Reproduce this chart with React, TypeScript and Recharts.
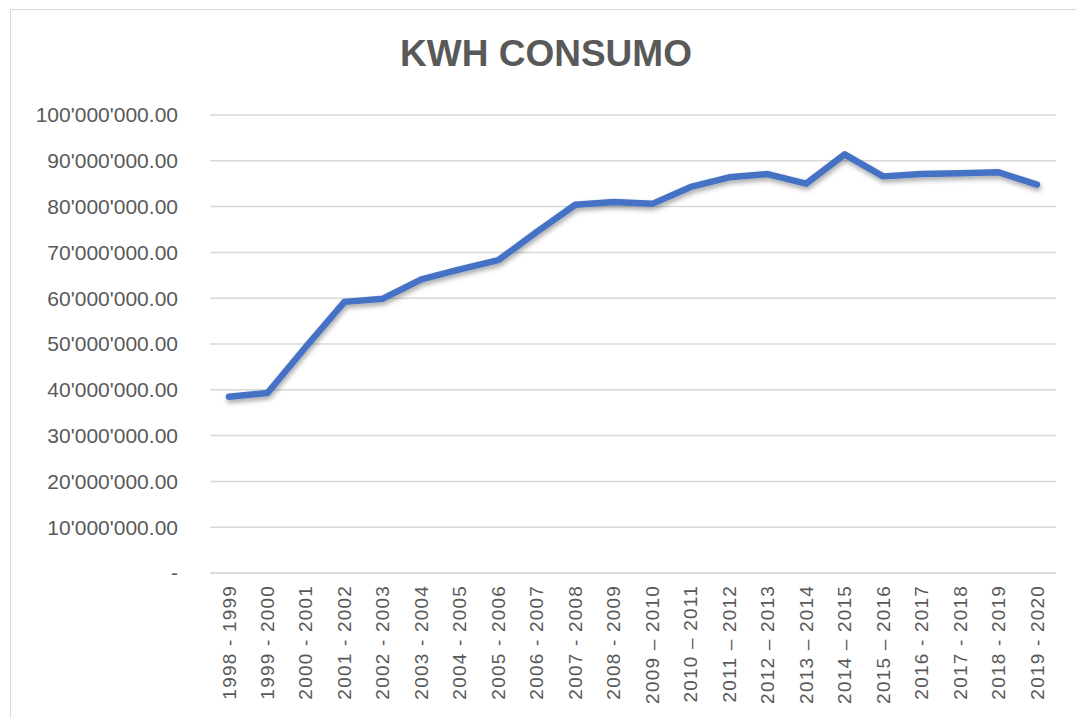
import { LineChart, Line, XAxis, YAxis, CartesianGrid } from 'recharts'

const periods = [
  '1998 - 1999', '1999 - 2000', '2000 - 2001', '2001 - 2002', '2002 - 2003',
  '2003 - 2004', '2004 - 2005', '2005 - 2006', '2006 - 2007', '2007 - 2008',
  '2008 - 2009', '2009 – 2010', '2010 – 2011', '2011 – 2012', '2012 – 2013',
  '2013 – 2014', '2014 – 2015', '2015 – 2016', '2016 - 2017', '2017 - 2018',
  '2018 - 2019', '2019 - 2020',
]

const kwh = [
  38500000, 39300000, 49400000, 59200000, 59900000, 64100000, 66300000,
  68300000, 74500000, 80400000, 81000000, 80600000, 84300000, 86400000,
  87100000, 85000000, 91400000, 86600000, 87100000, 87300000, 87500000,
  84800000,
]

const yTicks = [0, 10000000, 20000000, 30000000, 40000000, 50000000, 60000000, 70000000, 80000000, 90000000, 100000000]

const data = periods.map((p, i) => ({ period: p, kwh: kwh[i] }))

const grey = '#595959'

function formatKwh(v: number) {
  if (v === 0) return '-'
  const s = v.toFixed(2)
  const [int, dec] = s.split('.')
  return int.replace(/\B(?=(\d{3})+(?!\d))/g, "'") + '.' + dec
}

// rotated category label, reads bottom to top
function PeriodTick(props: any) {
  const { x, y, payload } = props
  return (
    <text
      x={x}
      y={y}
      transform={`rotate(-90, ${x}, ${y})`}
      textAnchor="end"
      dominantBaseline="central"
      fill={grey}
      fontSize={19}
      letterSpacing={1.2}
      fontFamily="'Liberation Sans', Arial, sans-serif"
    >
      {payload.value}
    </text>
  )
}

export default function App() {
  return (
    <div style={{ position: 'absolute', left: 0, top: 0, width: 1076, height: 718, overflow: 'hidden', background: '#fff' }}>
      <div
        style={{
          position: 'absolute',
          left: 10,
          top: 9,
          width: 1120,
          height: 800,
          border: '1px solid #d9d9d9',
        }}
      />
      <div
        style={{
          position: 'absolute',
          left: 0,
          top: 33,
          width: 1092,
          textAlign: 'center',
          fontFamily: "'Liberation Sans', Arial, sans-serif",
          fontWeight: 'bold',
          fontSize: 37,
          color: grey,
        }}
      >
        KWH CONSUMO
      </div>
      <div style={{ position: 'absolute', left: 0, top: 0 }}>
        <LineChart width={1076} height={718} data={data} margin={{ top: 115, right: 20, bottom: 0, left: 0 }}>
          <defs>
            <filter id="lineShadow" x="-5%" y="-20%" width="110%" height="140%">
              <feDropShadow dx="1" dy="3" stdDeviation="2.5" floodColor="#000" floodOpacity="0.35" />
            </filter>
          </defs>
          <CartesianGrid vertical={false} stroke="#d9d9d9" strokeWidth={1.5} />
          <XAxis
            dataKey="period"
            interval={0}
            height={145}
            padding={{ left: 19, right: 19 }}
            tickLine={false}
            axisLine={{ stroke: '#d9d9d9', strokeWidth: 1.5 }}
            tick={<PeriodTick />}
            tickSize={0}
            tickMargin={12}
          />
          <YAxis
            width={210}
            domain={[0, 100000000]}
            ticks={yTicks}
            interval={0}
            tickFormatter={formatKwh}
            axisLine={false}
            tickLine={false}
            tickSize={0}
            tickMargin={32}
            tick={{ fill: grey, fontSize: 21, fontFamily: "'Liberation Sans', Arial, sans-serif" }}
          />
          <Line
            type="linear"
            dataKey="kwh"
            stroke="#4472C4"
            strokeWidth={6.5}
            strokeLinecap="round"
            strokeLinejoin="round"
            dot={false}
            filter="url(#lineShadow)"
            isAnimationActive={false}
          />
        </LineChart>
      </div>
    </div>
  )
}
